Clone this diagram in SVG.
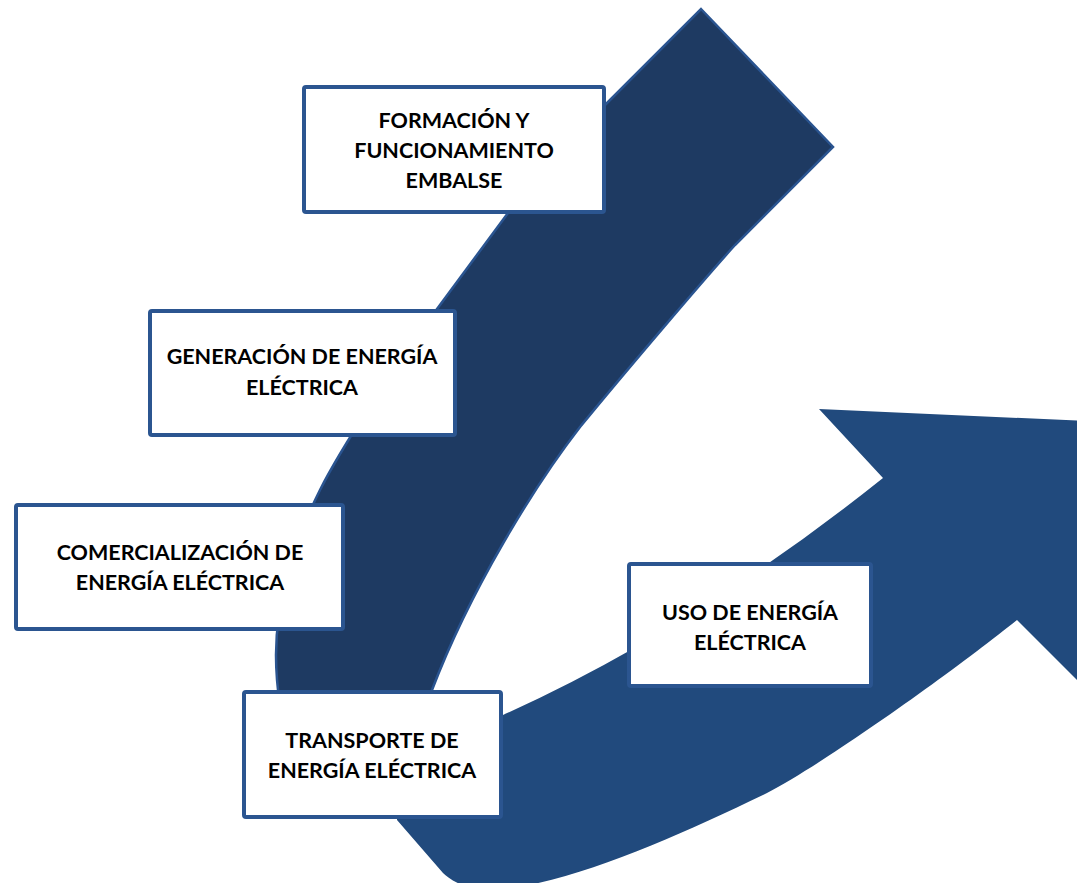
<svg xmlns="http://www.w3.org/2000/svg" width="1077" height="883" viewBox="0 0 1077 883">
<style>
.box{fill:#ffffff;stroke:#2B5590;stroke-width:4;}
.lbl{font-family:Lato,"Open Sans","Liberation Sans",sans-serif;font-weight:bold;font-size:21.5px;fill:#000000;text-anchor:middle;}
</style>
<rect width="1077" height="883" fill="#ffffff"/>
<g id="connectors">
<path id="arrow-up" d="M701,9 L833,147 L735,245 C706,277 625,372 580,427 C535,485 470,590 432,690 C415,735 405,770 400,800 L300,800 L290,760 C282,720 276,690 276,655 C276,600 295,540 320,490 C340,450 395,365 437,309 L508,213 L560,150 L606,104 Z" fill="#1E3A62" stroke="#2A5490" stroke-width="2.5" stroke-linejoin="miter"/>
<path id="arrow-right" d="M470,730 L503,715 Q694,629 883,478 L819,409 L1110,422 L1110,713 L1077,680 L1017,620 C960,666 830,760 767,793 C680,835 580,880 500,890 C470,893 450,880 443,873 L397,820 L400,760 Z" fill="#214A7D"/>
</g>
<g id="node-formacion">
<rect class="box" x="304" y="87" width="300" height="125" rx="2"/>
<text class="lbl" x="454" y="128">FORMACIÓN Y</text>
<text class="lbl" x="454" y="158">FUNCIONAMIENTO</text>
<text class="lbl" x="454" y="188">EMBALSE</text>
</g>
<g id="node-generacion">
<rect class="box" x="150" y="311" width="305" height="124" rx="2"/>
<text class="lbl" x="302" y="364">GENERACIÓN DE ENERGÍA</text>
<text class="lbl" x="302" y="395">ELÉCTRICA</text>
</g>
<g id="node-comercializacion">
<rect class="box" x="16" y="505" width="327" height="124" rx="2"/>
<text class="lbl" x="180" y="560">COMERCIALIZACIÓN DE</text>
<text class="lbl" x="180" y="590">ENERGÍA ELÉCTRICA</text>
</g>
<g id="node-transporte">
<rect class="box" x="244" y="692" width="257" height="125" rx="2"/>
<text class="lbl" x="372" y="748">TRANSPORTE DE</text>
<text class="lbl" x="372" y="778">ENERGÍA ELÉCTRICA</text>
</g>
<g id="node-uso">
<rect class="box" x="629" y="564" width="242" height="122" rx="2"/>
<text class="lbl" x="750" y="620">USO DE ENERGÍA</text>
<text class="lbl" x="750" y="650">ELÉCTRICA</text>
</g>
</svg>
